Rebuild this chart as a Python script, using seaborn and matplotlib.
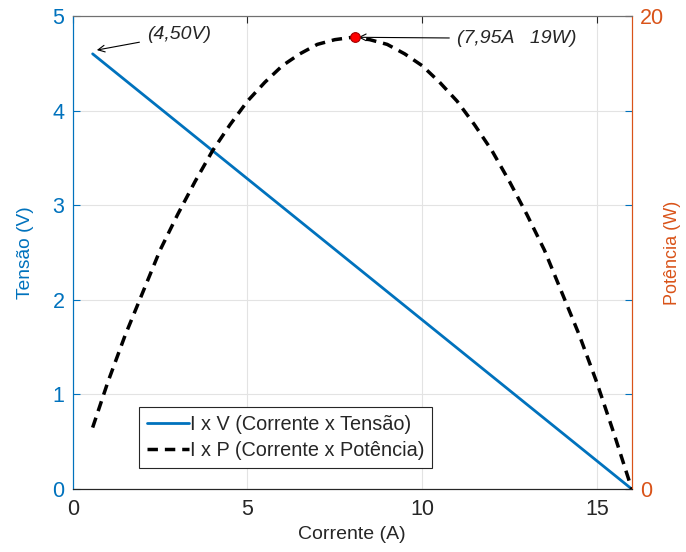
import matplotlib
matplotlib.use("Agg")
import matplotlib.pyplot as plt
import seaborn as sns
import pandas as pd

# Panel I-V curve and the corresponding power curve
corrente_iv = [0.57, 16.0]
tensao_iv = [4.60, 0.0]

corrente_p = [0.57, 1.0, 1.5, 2.0, 2.5, 3.0, 3.5, 4.0, 4.5, 5.0, 5.5, 6.0, 6.5,
              7.0, 7.5, 8.0, 8.5, 9.0, 9.5, 10.0, 10.5, 11.0, 11.5, 12.0, 12.5,
              13.0, 13.5, 14.0, 14.5, 15.0, 15.5, 16.0]
potencia_p = [2.6, 4.5, 6.5, 8.3, 10.1, 11.6, 13.0, 14.3, 15.4, 16.4, 17.2,
              17.9, 18.4, 18.8, 19.0, 19.1, 19.0, 18.8, 18.4, 17.9, 17.2,
              16.4, 15.4, 14.3, 13.0, 11.6, 10.1, 8.3, 6.5, 4.5, 2.3, 0.0]

ponto_max_corrente = 8.07
ponto_max_potencia = 19.1

x_ticks = [0, 5, 10, 15]
y_ticks_v = [0, 1, 2, 3, 4, 5]
y_ticks_p = [0, 20]

AZUL = "#0072BD"
LARANJA = "#D95319"
CINZA = "#262626"

sns.set_style("white")
plt.rcParams["font.family"] = ["Liberation Sans", "DejaVu Sans"]

fig = plt.figure(figsize=(6.86, 5.52), dpi=100)
ax1 = fig.add_axes([0.106, 0.114, 0.815, 0.857])
ax2 = ax1.twinx()

df_iv = pd.DataFrame({"Corrente": corrente_iv, "Tensao": tensao_iv})
df_p = pd.DataFrame({"Corrente": corrente_p, "Potencia": potencia_p})

sns.lineplot(data=df_iv, x="Corrente", y="Tensao", ax=ax1, color=AZUL,
             linewidth=2.0, label="I x V (Corrente x Tensão)", legend=False)
sns.lineplot(data=df_p, x="Corrente", y="Potencia", ax=ax2, color="black",
             linewidth=2.5, linestyle=(0, (3, 2)), label="I x P (Corrente x Potência)",
             legend=False)
ax2.plot([ponto_max_corrente], [ponto_max_potencia], "o", markersize=7,
         markerfacecolor="red", markeredgecolor="#a00000", markeredgewidth=0.8,
         zorder=5)

ax1.set_xlim(0, 16)
ax1.set_ylim(0, 5)
ax2.set_ylim(0, 20)
ax1.set_xticks(x_ticks)
ax1.set_yticks(y_ticks_v)
ax2.set_yticks(y_ticks_p)

ax1.grid(True, color="#e3e3e3", linewidth=0.8)
ax1.set_axisbelow(True)

ax1.tick_params(axis="x", direction="in", length=5, width=0.8, colors=CINZA,
                labelsize=15.5, pad=7, top=True)
ax1.tick_params(axis="y", direction="in", length=5, width=0.8, colors=AZUL,
                labelsize=15.5, pad=6, right=True)
ax2.tick_params(axis="y", direction="in", length=5, width=0.8, colors=LARANJA,
                labelsize=15.5, pad=6)

for ax in (ax1, ax2):
    ax.spines["left"].set_color(AZUL)
    ax.spines["right"].set_color(LARANJA)
    ax.spines["top"].set_color("#707070")
    ax.spines["bottom"].set_color(CINZA)
    for s in ax.spines.values():
        s.set_linewidth(0.8)
        s.set_visible(True)

ax1.set_xlabel("Corrente (A)", fontsize=14, color=CINZA)
ax1.set_ylabel("Tensão (V)", fontsize=13.8, color=AZUL)
ax2.set_ylabel("Potência (W)", fontsize=13, color=LARANJA)
ax1.xaxis.set_label_coords(0.5, -0.078)
ax1.yaxis.set_label_coords(-0.07, 0.5)
ax2.yaxis.set_label_coords(1.058, 0.5)

arrow = dict(arrowstyle="->", color="black", linewidth=0.8, mutation_scale=12,
             shrinkA=3, shrinkB=0)
ax1.annotate("(4,50V)", xy=(0.69, 4.64), xytext=(2.12, 4.80), fontsize=14,
             style="italic", color=CINZA, ha="left", va="center",
             arrowprops=arrow)
ax2.annotate("(7,95A   19W)", xy=(ponto_max_corrente + 0.1, ponto_max_potencia),
             xytext=(10.99, 19.05), fontsize=14, style="italic",
             color=CINZA, ha="left", va="center", arrowprops=arrow)

h1, l1 = ax1.get_legend_handles_labels()
h2, l2 = ax2.get_legend_handles_labels()
leg = ax2.legend(h1 + h2, l1 + l2, loc="lower left",
                 bbox_to_anchor=(139 / 686, (552 - 468) / 552),
                 bbox_transform=fig.transFigure, fontsize=14.3, frameon=True,
                 fancybox=False, edgecolor=CINZA, framealpha=1,
                 handlelength=2.1, handletextpad=0.05, borderpad=0.4,
                 labelspacing=0.35, borderaxespad=0)
leg.get_frame().set_linewidth(0.8)

fig.savefig("out.png", dpi=100)
